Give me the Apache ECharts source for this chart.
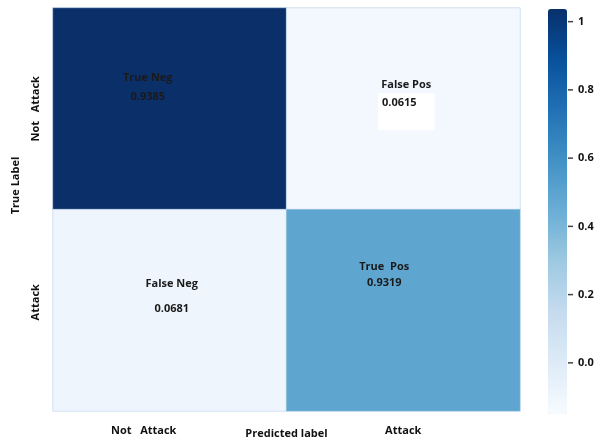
<!DOCTYPE html>
<html><head><meta charset="utf-8">
<script src="https://cdn.jsdelivr.net/npm/echarts@6/dist/echarts.min.js"></script>
<style>html,body{margin:0;padding:0;background:#fff}#c{width:599px;height:444px}</style>
</head><body><div id="c"></div>
<script>
const xCategories = ['Not   Attack', 'Attack'];
const yCategories = ['Not   Attack', 'Attack'];
const cellNames = ['True Neg', 'False Pos', 'False Neg', 'True  Pos'];
const cellValues = [0.9385, 0.0615, 0.0681, 0.9319];
const cellX = [0, 1, 0, 1];
const cellY = [0, 0, 1, 1];
const colorbarTicks = [0.0, 0.2, 0.4, 0.6, 0.8, 1];
const colorbarRange = [-0.147, 1.04];

const cellColors = ['#0b2f69', '#f3f8fe', '#eff5fd', '#5ea6d0'];
const labelOffsets = [[-22, -21], [3, -17], [2, -14], [-19, -35]];
const labelLineHeights = [19, 40, 25, 16];

const font = 'Open Sans';
const data = cellValues.map((v, i) => ({
  value: [cellX[i], cellY[i], v],
  itemStyle: { color: cellColors[i] },
  label: {
    offset: labelOffsets[i],
    formatter: i === 1 ? '{n|' + cellNames[i] + '}\n{b|' + v.toFixed(4) + '}' : '{n|' + cellNames[i] + '}\n{v|' + v.toFixed(4) + '}',
    rich: {
      n: { fontFamily: font, fontWeight: 'bold', fontSize: 11, color: '#1a1a1a', lineHeight: labelLineHeights[i] },
      v: { fontFamily: font, fontWeight: 'bold', fontSize: 11, color: '#1a1a1a', lineHeight: labelLineHeights[i] },
      b: { fontFamily: font, fontWeight: 'bold', fontSize: 11, color: '#1a1a1a', backgroundColor: '#ffffff', padding: [4, 18, 22, 4], lineHeight: 14 }
    }
  }
}));

const chart = echarts.init(document.getElementById('c'), null, { renderer: 'canvas' });
chart.setOption({
  animation: false,
  grid: [
    { left: 53, right: 79, top: 8, bottom: 33, outerBoundsMode: 'none', containLabel: false },
    { left: 548, width: 19, top: 8, height: 405, outerBoundsMode: 'none', containLabel: false }
  ],
  xAxis: [
    {
      type: 'category', gridIndex: 0,
      data: [{ value: xCategories[0], textStyle: { padding: [0, 52, 0, 0] } }, xCategories[1]],
      axisLine: { show: false }, axisTick: { show: false }, splitLine: { show: false },
      axisLabel: { fontFamily: font, fontWeight: 'bold', fontSize: 11, color: '#111', margin: 14 },
      name: 'Predicted label', nameLocation: 'middle', nameGap: 17, nameMoveOverlap: false,
      nameTextStyle: { fontFamily: font, fontWeight: 'bold', fontSize: 11, color: '#111' }
    },
    { type: 'value', gridIndex: 1, show: false, min: 0, max: 1 }
  ],
  yAxis: [
    {
      type: 'category', gridIndex: 0, inverse: true,
      data: [yCategories[0], { value: yCategories[1], textStyle: { padding: [0, 0, 0, 16] } }],
      axisLine: { show: false }, axisTick: { show: false }, splitLine: { show: false },
      axisLabel: { rotate: 90, fontFamily: font, fontWeight: 'bold', fontSize: 11, color: '#111', margin: 12 },
      name: 'True Label', nameLocation: 'middle', nameGap: 32, nameRotate: 90, nameMoveOverlap: false,
      nameTextStyle: { fontFamily: font, fontWeight: 'bold', fontSize: 11, color: '#111', padding: [0, 0, 0, 48] }
    },
    {
      type: 'value', gridIndex: 1, position: 'right', min: colorbarRange[0], max: colorbarRange[1],
      axisLine: { show: false }, splitLine: { show: false }, axisTick: { show: false },
      axisLabel: { customValues: colorbarTicks, margin: 1,
        formatter: v => '{t|}{l|' + (v === 1 ? '1' : v.toFixed(1)) + '}',
        rich: {
          t: { width: 5, height: 1.5, backgroundColor: '#444' },
          l: { padding: [0, 0, 0, 5], fontFamily: font, fontWeight: 'bold', fontSize: 11, color: '#111' }
        } }
    }
  ],
  visualMap: {
    type: 'continuous', min: colorbarRange[0], max: colorbarRange[1], seriesIndex: 1,
    calculable: false, left: 533, top: -6, itemWidth: 19, itemHeight: 405, text: ['', ''], showLabel: false,
    inRange: { color: ['#f7fbff', '#deebf7', '#c6dbef', '#9ecae1', '#6baed6', '#4292c6', '#2171b5', '#08519c', '#08306b'] }
  },
  series: [
    {
      type: 'heatmap', xAxisIndex: 0, yAxisIndex: 0, data: data,
      label: { show: true },
      itemStyle: { borderColor: '#a9cce6', borderWidth: 0.5 },
      emphasis: { disabled: true }
    },
    { type: 'scatter', xAxisIndex: 1, yAxisIndex: 1, data: [], silent: true }
  ]
});
</script></body></html>
